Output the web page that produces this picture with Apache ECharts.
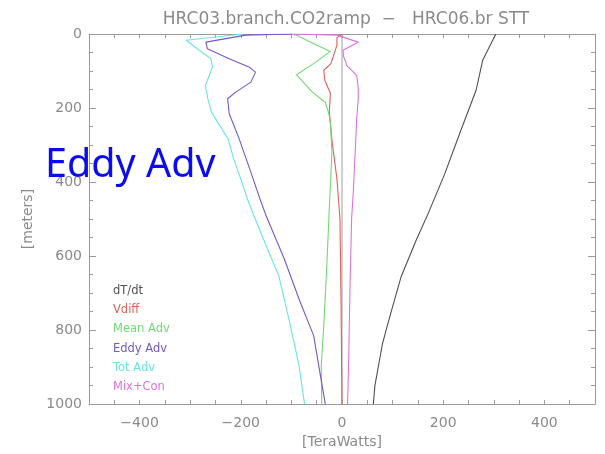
<!DOCTYPE html>
<html><head><meta charset="utf-8">
<script src="https://cdn.jsdelivr.net/npm/echarts@6/dist/echarts.min.js"></script>
<style>html,body{margin:0;padding:0;background:#fff}#c{width:605px;height:454px}</style>
</head><body><div id="c"></div>
<script>
const chartTitle = 'HRC03.branch.CO2ramp  \u2212   HRC06.br STT';
const overlayText = 'Eddy Adv';
const seriesNames = ['dT/dt', 'Vdiff', 'Mean Adv', 'Eddy Adv', 'Tot Adv', 'Mix+Con'];
const seriesColors = ['#505050', '#e0605a', '#72d872', '#7458c8', '#6ae4e4', '#e070e0'];

const depthDTdt = [0, 71, 152, 260, 378, 486, 556, 655, 756, 806, 837, 950, 1000];
const valDTdt   = [304, 278, 265, 235, 203, 170, 147, 117, 96, 86, 80, 65, 62];

const depthVdiff = [0, 10, 30, 60, 80, 98, 125, 160, 210, 285, 392, 500, 716, 1000];
const valVdiff   = [0, -10, -10, -17, -22, -36, -34, -23, -25, -20, -10, -4, -2, 0];

const depthMean = [0, 3, 20, 47, 80, 110, 155, 185, 215, 240, 320, 410, 500, 626, 788, 896, 1000];
const valMean   = [-100, -90, -65, -23, -56, -90, -60, -33, -26, -23, -20, -23, -26, -30, -36, -41, -40];

const depthEddy = [0, 3, 22, 40, 67, 89, 103, 130, 157, 175, 215, 284, 374, 446, 491, 608, 716, 815, 896, 1000];
const valEddy   = [-100, -190, -269, -266, -223, -184, -171, -180, -210, -226, -223, -203, -180, -162, -150, -114, -85, -56, -46, -33];

const depthTot = [0, 17, 44, 67, 89, 140, 176, 211, 284, 338, 392, 446, 491, 545, 653, 788, 896, 1000];
const valTot   = [-195, -308, -282, -259, -256, -270, -265, -258, -225, -214, -200, -187, -174, -158, -125, -102, -85, -74];

const depthMix = [0, 3, 22, 44, 60, 86, 112, 143, 176, 230, 320, 410, 500, 671, 896, 1000];
const valMix   = [-100, -10, 32, 2, 3, 10, 29, 32, 32, 29, 26, 23, 19, 16, 13, 11];

const depthZero = [0, 1000];
const valZero   = [0, 0];

const xMin = -500, xMax = 500, xLabelStep = 200;
const yMin = 0, yMax = 1000, yLabelStep = 200;

const pairs = (vals, depths) => vals.map((v, i) => [v, depths[i]]);
const seriesData = [
  pairs(valDTdt, depthDTdt), pairs(valVdiff, depthVdiff), pairs(valMean, depthMean),
  pairs(valEddy, depthEddy), pairs(valTot, depthTot), pairs(valMix, depthMix)
];

const axisGray = '#9a9a9a';
const labelGray = '#8a8a8a';
const fontFam = 'DejaVu Sans';

const chart = echarts.init(document.getElementById('c'), null, {renderer: 'canvas'});
const series = seriesNames.map((n, i) => ({
  name: n, type: 'line', data: seriesData[i], showSymbol: false, symbol: 'none',
  xAxisIndex: 0, yAxisIndex: 0, smooth: false,
  lineStyle: {color: seriesColors[i], width: 1.1}, itemStyle: {color: seriesColors[i]},
  z: 3
}));
series.unshift({
  name: 'zero', type: 'line', data: pairs(valZero, depthZero), showSymbol: false, symbol: 'none',
  lineStyle: {color: '#a0a0a0', width: 1}, z: 2, silent: true
});

const xLabelFmt = v => (v % xLabelStep === 0 && v > xMin && v < xMax) ? String(v).replace('-', '\u2212') : '';

chart.setOption({
  animation: false,
  backgroundColor: '#fff',
  title: {
    text: chartTitle, left: 341, top: 6, textAlign: 'center',
    textStyle: {color: labelGray, fontSize: 17, fontWeight: 'normal', fontFamily: fontFam}
  },
  legend: {
    data: seriesNames.map((n, i) => ({name: n, textStyle: {color: seriesColors[i]}})),
    orient: 'vertical', left: 108, top: 284, padding: 0,
    icon: 'none', itemWidth: 0, itemHeight: 14, itemGap: 6.2,
    textStyle: {fontSize: 11.5, fontFamily: fontFam}, selectedMode: false
  },
  grid: {left: 89, right: 10, top: 34, bottom: 49, containLabel: false},
  xAxis: [
    {
      type: 'value', position: 'bottom', min: xMin, max: xMax, interval: 50,
      name: '[TeraWatts]', nameLocation: 'middle', nameGap: 27,
      nameTextStyle: {color: labelGray, fontSize: 14, fontFamily: fontFam},
      axisLine: {show: true, onZero: false, lineStyle: {color: axisGray}},
      axisTick: {show: true, inside: true, length: 4, lineStyle: {color: axisGray}},
      axisLabel: {color: labelGray, fontSize: 14, fontFamily: fontFam, margin: 12, formatter: xLabelFmt},
      splitLine: {show: false}
    },
    {
      type: 'value', position: 'top', min: xMin, max: xMax, interval: 50,
      axisLine: {show: true, onZero: false, lineStyle: {color: axisGray}},
      axisTick: {show: true, inside: true, length: 4, lineStyle: {color: axisGray}},
      axisLabel: {show: false}, splitLine: {show: false}
    }
  ],
  yAxis: [
    {
      type: 'value', position: 'left', inverse: true, min: yMin, max: yMax, interval: yLabelStep,
      name: '[meters]', nameLocation: 'middle', nameGap: 45, nameRotate: 90,
      nameTextStyle: {color: labelGray, fontSize: 14, fontFamily: fontFam},
      axisLine: {show: true, onZero: false, lineStyle: {color: axisGray}},
      axisTick: {show: true, inside: true, length: 7, lineStyle: {color: axisGray}},
      minorTick: {show: true, splitNumber: 4, length: 4, lineStyle: {color: axisGray}},
      axisLabel: {color: labelGray, fontSize: 14, fontFamily: fontFam, margin: 7, formatter: v => String(v)},
      splitLine: {show: false}, minorSplitLine: {show: false}
    },
    {
      type: 'value', position: 'right', inverse: true, min: yMin, max: yMax, interval: yLabelStep,
      axisLine: {show: true, onZero: false, lineStyle: {color: axisGray}},
      axisTick: {show: true, inside: true, length: 7, lineStyle: {color: axisGray}},
      minorTick: {show: true, splitNumber: 4, length: 4, lineStyle: {color: axisGray}},
      axisLabel: {show: false}, splitLine: {show: false}
    }
  ],
  graphic: [{
    type: 'text', left: 45, top: 146, z: 100,
    style: {text: overlayText, fill: '#0b0bf2', font: '39.5px "Noto Sans"'}
  }],
  series: series
});
</script></body></html>
